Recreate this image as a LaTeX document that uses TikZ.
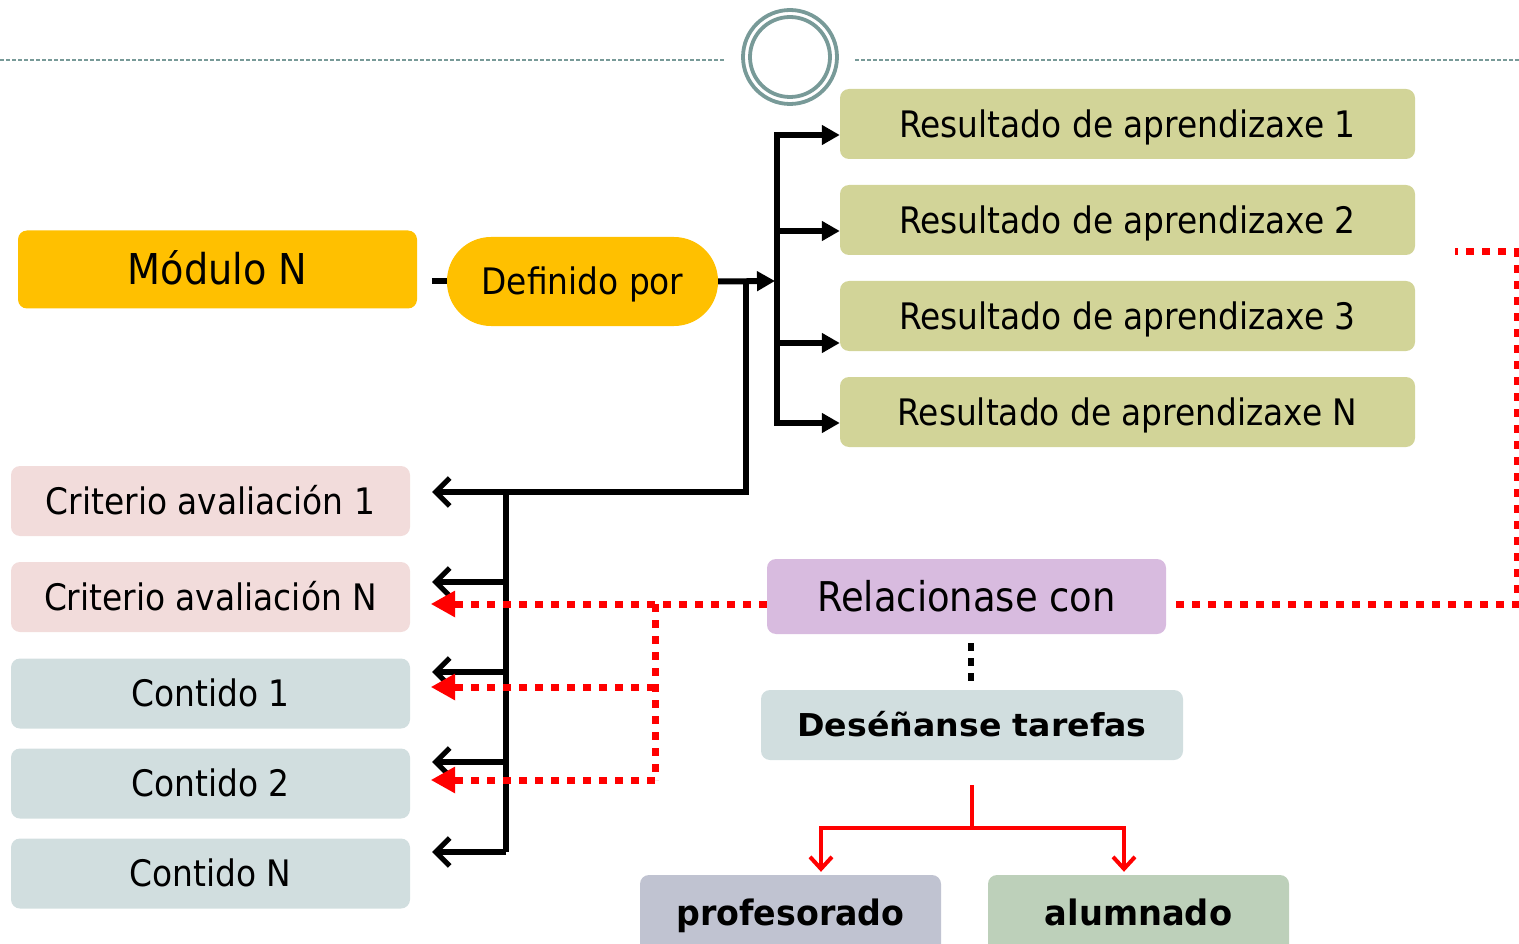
\documentclass[tikz,border=0pt]{standalone}
\usepackage{fontspec}
\setmainfont{DejaVu Sans Condensed}
\usetikzlibrary{arrows.meta,calc}
\definecolor{gold}{HTML}{FFC000}
\definecolor{olive}{HTML}{D2D498}
\definecolor{pinkc}{HTML}{F2DCDB}
\definecolor{bluec}{HTML}{D1DEDF}
\definecolor{lilac}{HTML}{D8BBDF}
\definecolor{profc}{HTML}{C0C3D1}
\definecolor{alumc}{HTML}{BDD0BA}
\definecolor{tealc}{HTML}{789A98}
\tikzset{
  box/.style={rounded corners=9pt, inner sep=0pt, text=black, text depth=0pt},
  std/.style={font=\fontsize{36.5}{42}\selectfont, text height=26.6pt},
  blk/.style={line width=6pt, black},
  redd/.style={line width=7pt, red, dash pattern=on 8pt off 8pt},
  redl/.style={line width=4pt, red},
  tri/.style={-{Triangle[length=18pt,width=19pt]}},
  barb/.style={-{Straight Barb[length=14pt,width=28pt,line width=5pt]}},
  rbarb/.style={-{Straight Barb[length=12pt,width=22pt,line width=4pt]}},
  rtri/.style={-{Triangle[length=24pt,width=27pt]}},
}
\begin{document}
\begin{tikzpicture}[x=1pt,y=-1pt]
\useasboundingbox (0,0) rectangle (1519,944);
% header
\draw[tealc, line width=1.2pt, dash pattern=on 4pt off 2pt] (0,60) coordinate (hl1) -- (725,60) coordinate (hl2);
\draw[tealc, line width=1.2pt, dash pattern=on 4pt off 2pt] (855,60) coordinate (hr1) -- (1519,60) coordinate (hr2);
\node[draw=tealc, line width=3.8pt, circle, minimum size=94pt, inner sep=0pt] (co) at (790,57) {};
\node[draw=tealc, line width=3.8pt, circle, minimum size=80pt, inner sep=0pt] (ci) at (790,57) {};
% nodes
\node[box, fill=gold, minimum width=399pt, minimum height=78pt, font=\fontsize{42.5}{48}\selectfont, text height=31pt] (mod) at (217.5,269.5) {Módulo N};
\node[box, std, rounded corners=44pt, fill=gold, minimum width=271pt, minimum height=89pt] (def) at (582.5,281.5) {Definido por};
\foreach \n/\y/\t in {ra1/124/1, ra2/220/2, ra3/316/3, raN/412/N}{
  \node[box, std, fill=olive, minimum width=575pt, minimum height=70pt] (\n) at (1127.5,\y) {Resultado de aprendizaxe \t};
}
\node[box, std, fill=pinkc, minimum width=399pt, minimum height=70pt] (ca1) at (210.5,501) {Criterio avaliación 1};
\node[box, std, fill=pinkc, minimum width=399pt, minimum height=70pt] (caN) at (210.5,597) {Criterio avaliación N};
\node[box, std, fill=bluec, minimum width=399pt, minimum height=70pt] (c1) at (210.5,693.5) {Contido 1};
\node[box, std, fill=bluec, minimum width=399pt, minimum height=70pt] (c2) at (210.5,783.5) {Contido 2};
\node[box, std, fill=bluec, minimum width=399pt, minimum height=70pt] (cN) at (210.5,873.5) {Contido N};
\node[box, fill=lilac, minimum width=399pt, minimum height=75pt, font=\fontsize{41}{48}\selectfont, text height=29.9pt] (rel) at (966.5,596.5) {Relacionase con};
\node[box, fill=bluec, minimum width=422pt, minimum height=70pt, font=\fontsize{31.5}{38}\selectfont\bfseries, text height=23pt] (des) at (972,725) {\scalebox{1.17}[1]{Deséñanse tarefas}};
\node[box, fill=profc, minimum width=301pt, minimum height=80pt, font=\fontsize{35}{42}\selectfont\bfseries, text height=20pt] (prof) at (790.5,915) {\scalebox{1.056}[1]{profesorado}};
\node[box, fill=alumc, minimum width=301pt, minimum height=80pt, font=\fontsize{35}{42}\selectfont\bfseries, text height=20pt] (alum) at (1138.5,915) {\scalebox{1.07}[1]{alumnado}};
% module to definido
\draw[blk] ($(def.west)+(-15,0)$) -- (def.west);
% definido to RA
\coordinate (jt) at (777,135);
\coordinate (jb) at (777,423);
\coordinate (jm) at (777,281);
\draw[blk, tri] (def.east) -- ($(jm)+(-2,0)$);
\draw[blk, line cap=rect] (jt) -- (jb);
\draw[blk, tri] (jt) -- ($(ra1.west)+(0,11)$);
\draw[blk, tri] (777,231) -- ($(ra2.west)+(0,11)$);
\draw[blk, tri] (777,343) -- ($(ra3.west)+(0,27)$);
\draw[blk, tri] (jb) -- ($(raN.west)+(0,11)$);
% definido to criteria
\coordinate (dv) at (746,281);
\coordinate (lb) at (506,492);
\coordinate (lbb) at (506,852);
\draw[blk, barb] (dv) -- (746,492) -- ($(ca1.east)+(22,-9)$);
\draw[blk] (lb) -- (lbb);
\draw[blk, barb] (506,582) -- ($(caN.east)+(22,-15)$);
\draw[blk, barb] (506,672) -- ($(c1.east)+(22,-21.5)$);
\draw[blk, barb] (506,762) -- ($(c2.east)+(22,-21.5)$);
\draw[blk, barb] (lbb) -- ($(cN.east)+(22,-21.5)$);
% red dotted relations
\coordinate (rv) at (655,604);
\draw[redd] ($(rel.west)+(0,7.5)$) -- ($(caN.east)+(44,7)$);
\draw[red, rtri, line width=0pt] ($(caN.east)+(44,7)$) -- ($(caN.east)+(21,7)$);
\draw[redd] (rv) -- (655,780);
\draw[redd] (655,687) -- ($(c1.east)+(44,-6.5)$);
\draw[red, rtri, line width=0pt] ($(c1.east)+(44,-6.5)$) -- ($(c1.east)+(21,-6.5)$);
\draw[redd] (655,780) -- ($(c2.east)+(44,-3.5)$);
\draw[red, rtri, line width=0pt] ($(c2.east)+(44,-3.5)$) -- ($(c2.east)+(21,-3.5)$);
\draw[redd] ($(rel.east)+(10,7.5)$) -- (1517,604) -- (1517,252) -- (1455,252);
% rel to des
\draw[black, line width=6pt, dash pattern=on 8pt off 7pt] ($(rel.south)+(4.5,9)$) -- ($(des.north)+(-1,-8)$);
% des to prof/alum
\coordinate (bm) at (972,828);
\draw[redl] ($(des.south)+(0,25)$) -- (bm);
\draw[redl, rbarb] (bm) -| ($(prof.north)+(30.5,-3)$);
\draw[redl, rbarb] (bm) -| ($(alum.north)+(-14.5,-3)$);
\end{tikzpicture}
\end{document}
